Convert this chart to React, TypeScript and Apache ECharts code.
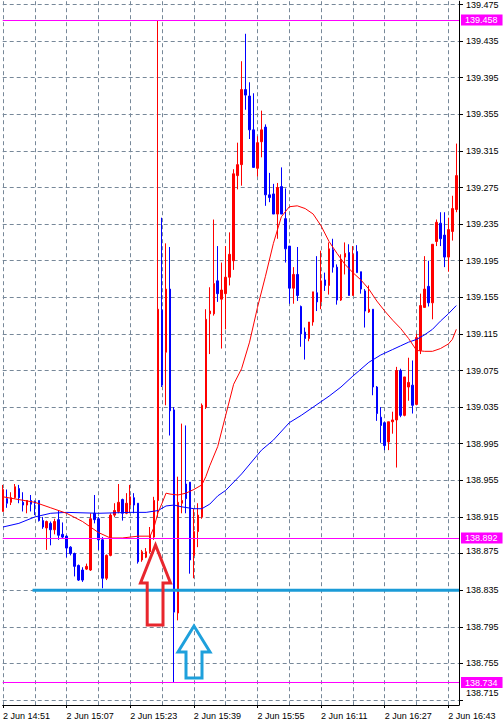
import React, { useEffect, useRef } from 'react';
import * as echarts from 'echarts';

// ---- candle data (1-minute bars, index 0 = 2 Jun 14:51) ----
const opens = [
  138.921, 138.935, 138.931, 138.936, 138.946, 138.931, 138.928, 138.933, 138.932, 138.933,
  138.911, 138.903, 138.908, 138.901, 138.912, 138.896, 138.894, 138.882, 138.875, 138.862,
  138.857, 138.858, 138.857, 138.919, 138.913, 138.890, 138.848, 138.873, 138.917, 138.921,
  138.934, 138.919, 138.928, 138.936, 138.930, 138.868, 138.871, 138.877, 138.893, 138.933,
  139.141, 139.095, 139.164, 139.032, 138.810, 138.930, 138.951, 138.953, 138.873, 138.899,
  138.915, 139.035, 139.137, 139.137, 139.173, 139.153, 139.159, 139.177, 139.195, 139.288,
  139.300, 139.382, 139.375, 139.338, 139.296, 139.325, 139.341, 139.267, 139.268, 139.246,
  139.276, 139.241, 139.211, 139.165, 139.180, 139.145, 139.117, 139.110, 139.128, 139.160,
  139.150, 139.174, 139.168, 139.207, 139.188, 139.152, 139.199, 139.204, 139.157, 139.205,
  139.183, 139.162, 139.139, 139.142, 139.057, 139.024, 139.018, 138.997, 139.019, 139.021,
  139.075, 139.026, 139.057, 139.059, 139.038, 139.097, 139.144, 139.167, 139.149, 139.216,
  139.236, 139.223, 139.199, 139.227, 139.251,
];
const closes = [
  138.945, 138.930, 138.936, 138.948, 138.936, 138.928, 138.933, 138.929, 138.930, 138.911,
  138.904, 138.910, 138.901, 138.910, 138.895, 138.893, 138.881, 138.875, 138.861, 138.846,
  138.846, 138.861, 138.913, 138.912, 138.890, 138.848, 138.873, 138.917, 138.922, 138.931,
  138.919, 138.930, 138.937, 138.928, 138.866, 138.877, 138.877, 138.895, 138.933, 139.142,
  139.059, 139.164, 139.031, 138.811, 138.931, 138.933, 138.935, 138.868, 138.899, 138.917,
  139.037, 139.131, 139.140, 139.170, 139.159, 139.163, 139.177, 139.202, 139.290, 139.300,
  139.382, 139.376, 139.338, 139.297, 139.324, 139.338, 139.267, 139.264, 139.246, 139.275,
  139.246, 139.208, 139.165, 139.180, 139.157, 139.115, 139.110, 139.128, 139.161, 139.150,
  139.173, 139.168, 139.208, 139.188, 139.152, 139.195, 139.203, 139.157, 139.202, 139.182,
  139.164, 139.140, 139.142, 139.057, 139.028, 139.015, 138.993, 139.019, 139.021, 139.075,
  139.026, 139.068, 139.062, 139.037, 139.111, 139.146, 139.164, 139.149, 139.213, 139.237,
  139.219, 139.199, 139.229, 139.252, 139.288,
];
const lows = [
  138.921, 138.925, 138.928, 138.935, 138.930, 138.921, 138.919, 138.921, 138.917, 138.910,
  138.902, 138.879, 138.884, 138.896, 138.890, 138.891, 138.871, 138.873, 138.850, 138.845,
  138.844, 138.857, 138.856, 138.908, 138.879, 138.837, 138.846, 138.872, 138.915, 138.919,
  138.911, 138.918, 138.919, 138.919, 138.864, 138.866, 138.870, 138.875, 138.890, 138.915,
  139.057, 139.037, 139.004, 138.734, 138.802, 138.919, 138.919, 138.853, 138.848, 138.882,
  138.913, 139.033, 139.093, 139.135, 139.150, 139.099, 139.120, 139.168, 139.185, 139.273,
  139.277, 139.360, 139.328, 139.297, 139.287, 139.308, 139.255, 139.259, 139.246, 139.219,
  139.246, 139.193, 139.148, 139.148, 139.151, 139.101, 139.087, 139.107, 139.124, 139.140,
  139.142, 139.162, 139.158, 139.182, 139.147, 139.151, 139.180, 139.157, 139.157, 139.182,
  139.159, 139.122, 139.138, 139.048, 139.020, 138.996, 138.988, 138.988, 139.006, 138.969,
  139.024, 139.025, 139.042, 139.028, 139.037, 139.093, 139.144, 139.145, 139.131, 139.211,
  139.211, 139.188, 139.183, 139.217, 139.248,
];
const highs = [
  138.950, 138.945, 138.942, 138.951, 138.950, 138.942, 138.933, 138.939, 138.933, 138.933,
  138.915, 138.911, 138.910, 138.913, 138.922, 138.909, 138.895, 138.883, 138.876, 138.863,
  138.860, 138.864, 138.919, 138.939, 138.915, 138.893, 138.874, 138.919, 138.930, 138.951,
  138.935, 138.941, 138.950, 138.941, 138.930, 138.879, 138.881, 138.904, 138.937, 139.458,
  139.242, 139.214, 139.210, 139.035, 138.959, 139.017, 139.015, 138.953, 138.924, 138.930,
  139.039, 139.142, 139.166, 139.240, 139.211, 139.193, 139.211, 139.226, 139.295, 139.324,
  139.413, 139.443, 139.390, 139.378, 139.331, 139.359, 139.344, 139.291, 139.279, 139.280,
  139.297, 139.274, 139.211, 139.188, 139.210, 139.146, 139.122, 139.128, 139.161, 139.200,
  139.206, 139.182, 139.215, 139.219, 139.191, 139.202, 139.215, 139.213, 139.211, 139.212,
  139.183, 139.164, 139.168, 139.142, 139.058, 139.035, 139.019, 139.019, 139.030, 139.079,
  139.077, 139.068, 139.089, 139.086, 139.115, 139.159, 139.200, 139.195, 139.213, 139.240,
  139.248, 139.248, 139.242, 139.266, 139.323,
];

// ---- moving averages (bar index, price) ----
const redMaBars = [0, 4, 8, 12, 16, 20, 24, 27, 30, 34, 37, 38, 39, 40, 41, 42, 44, 46, 48, 50, 51, 52, 54, 56, 58, 60, 62, 64, 66, 68, 70, 72, 74, 76, 78, 80, 82, 84, 86, 88, 90, 92, 94, 96, 98, 100, 102, 104, 106, 108, 110, 112, 113, 114];
const redMaValues = [138.937, 138.934, 138.931, 138.925, 138.919, 138.910, 138.898, 138.892, 138.892, 138.894, 138.894, 138.904, 138.920, 138.930, 138.941, 138.940, 138.939, 138.941, 138.945, 138.950, 138.959, 138.971, 138.992, 139.026, 139.060, 139.077, 139.106, 139.144, 139.178, 139.214, 139.243, 139.254, 139.255, 139.252, 139.246, 139.233, 139.216, 139.203, 139.191, 139.182, 139.174, 139.164, 139.151, 139.140, 139.130, 139.121, 139.110, 139.097, 139.096, 139.096, 139.099, 139.104, 139.109, 139.120];
const blueMaBars = [0, 4, 8, 12, 16, 24, 32, 36, 39, 41, 43, 45, 48, 50, 52, 54, 56, 60, 65, 68, 72, 75, 78, 82, 85, 88, 92, 95, 98, 100, 102, 104, 106, 108, 110, 112, 114];
const blueMaValues = [138.904, 138.908, 138.915, 138.919, 138.920, 138.919, 138.920, 138.920, 138.922, 138.927, 138.928, 138.926, 138.924, 138.924, 138.929, 138.938, 138.944, 138.962, 138.988, 138.999, 139.018, 139.026, 139.035, 139.047, 139.057, 139.069, 139.084, 139.092, 139.098, 139.102, 139.106, 139.109, 139.114, 139.120, 139.129, 139.137, 139.146];

// ---- axes ----
const timeTickBars = [0, 16, 32, 48, 64, 80, 96, 112];
const timeTickLabels = ['2 Jun 14:51', '2 Jun 15:07', '2 Jun 15:23', '2 Jun 15:39', '2 Jun 15:55', '2 Jun 16:11', '2 Jun 16:27', '2 Jun 16:43'];
const gridBars = [0, 8, 16, 24, 32, 40, 48, 56, 64, 72, 80, 88, 96, 104, 112];
const priceTicks = [138.715, 138.755, 138.795, 138.835, 138.875, 138.915, 138.955, 138.995, 139.035, 139.075, 139.115, 139.155, 139.195, 139.235, 139.275, 139.315, 139.355, 139.395, 139.435, 139.475];
// labels the terminal nudged upwards (value text -> rich style key)
const raisedLabels: Record<string, string> = { '138.715': 'u7', '138.875': 'u3' };

// ---- horizontal levels ----
const magentaLevels = [139.458, 138.892, 138.734];
const supportLevel = 138.835;
const supportStartBar = 7.425;

const X_MIN = -0.075;
const X_MAX = 114.675;
const Y_MIN = 138.7095;
const Y_MAX = 139.4786;

const FONT = '"Liberation Sans", Arial, sans-serif';
const GRID_LINE = { show: true, lineStyle: { color: '#778899', width: 1, type: [4, 3] as any } };

export default function App() {
  const ref = useRef<HTMLDivElement>(null);

  useEffect(() => {
    if (!ref.current) return;
    const chart = echarts.init(ref.current, null, { renderer: 'svg' });

    const candles = opens.map((o, i) => [i, o, closes[i], lows[i], highs[i]]);

    const labelStyle = { fontSize: 9, fontFamily: FONT, color: '#000', lineHeight: 9 };

    const option: any = {
      animation: false,
      backgroundColor: '#ffffff',
      grid: { left: 0, top: 0, width: 459, height: 705, containLabel: false },
      xAxis: [
        {
          type: 'value', min: X_MIN, max: X_MAX, position: 'bottom',
          axisLine: { show: true, onZero: false, lineStyle: { color: '#000', width: 1 } },
          axisTick: { show: false, customValues: gridBars },
          axisLabel: { show: false },
          splitLine: GRID_LINE,
        },
        {
          type: 'value', min: X_MIN, max: X_MAX, position: 'bottom',
          axisLine: { show: false, onZero: false },
          axisTick: { show: true, customValues: timeTickBars, length: 3, lineStyle: { color: '#000' } },
          axisLabel: {
            show: true, customValues: timeTickBars, align: 'left', margin: 6,
            ...labelStyle,
            formatter: (v: number) => {
              const k = timeTickBars.indexOf(Math.round(v));
              return k >= 0 ? timeTickLabels[k] : '';
            },
          },
          splitLine: { show: false },
        },
      ],
      yAxis: {
        type: 'value', min: Y_MIN, max: Y_MAX, position: 'right', scale: true,
        axisLine: { show: true, onZero: false, lineStyle: { color: '#000', width: 1 } },
        axisTick: { show: true, customValues: priceTicks, length: 4, lineStyle: { color: '#000' } },
        axisLabel: {
          show: true, customValues: priceTicks, margin: 7, align: 'left',
          ...labelStyle,
          formatter: (v: number) => {
            const s = v.toFixed(3);
            const key = raisedLabels[s];
            return key ? `{${key}|${s}}` : s;
          },
          rich: {
            u7: { ...labelStyle, padding: [0, 0, 14, 0] },
            u3: { ...labelStyle, padding: [0, 0, 6, 0] },
          },
        },
        splitLine: GRID_LINE,
      },
      series: [
        {
          type: 'candlestick',
          xAxisIndex: 0,
          data: candles,
          encode: { x: 0, y: [1, 2, 3, 4] },
          barWidth: 2,
          itemStyle: {
            color: '#ff0000', color0: '#0000ff',
            borderColor: '#ff0000', borderColor0: '#0000ff', borderWidth: 1,
          },
          markLine: {
            silent: true, symbol: 'none', animation: false, precision: 3,
            lineStyle: { color: '#ff00ff', width: 1, type: 'solid' },
            label: {
              show: true, position: 'end', distance: 2,
              color: '#ffffff', backgroundColor: '#ff00ff', padding: [1, 5, 1, 4],
              fontSize: 9, lineHeight: 9, fontFamily: FONT,
              formatter: (p: any) => Number(p.data && p.data.yAxis != null ? p.data.yAxis : p.value).toFixed(3),
            },
            data: magentaLevels.map((v) => ({ yAxis: v })),
          },
          z: 2,
        },
        {
          type: 'line', name: 'support', xAxisIndex: 0,
          data: [[supportStartBar, supportLevel], [X_MAX, supportLevel]],
          showSymbol: false, symbol: 'none',
          lineStyle: { color: '#1b9bd7', width: 3 },
          z: 3,
        },
        {
          type: 'line', name: 'MA slow', xAxisIndex: 0,
          data: blueMaBars.map((b, i) => [b, blueMaValues[i]]),
          showSymbol: false, symbol: 'none',
          lineStyle: { color: '#0000ff', width: 1 },
          z: 4,
        },
        {
          type: 'line', name: 'MA fast', xAxisIndex: 0,
          data: redMaBars.map((b, i) => [b, redMaValues[i]]),
          showSymbol: false, symbol: 'none',
          lineStyle: { color: '#ff0000', width: 1 },
          z: 4,
        },
      ],
      graphic: [
        {
          type: 'polygon', z: 100,
          shape: { points: [[155.5, 545], [140.5, 583], [147.2, 583], [147.2, 625], [163, 625], [163, 583], [170.5, 583]] },
          style: { fill: 'none', stroke: '#e8262d', lineWidth: 3 },
        },
        {
          type: 'polygon', z: 100,
          shape: { points: [[194, 626], [178, 652], [186, 652], [186, 678], [202, 678], [202, 652], [210, 652]] },
          style: { fill: 'none', stroke: '#1ea0dc', lineWidth: 3 },
        },
      ],
    };

    chart.setOption(option);
    return () => chart.dispose();
  }, []);

  return (
    <div
      ref={ref}
      style={{ position: 'fixed', left: 0, top: 0, width: 504, height: 721, background: '#fff' }}
    />
  );
}
